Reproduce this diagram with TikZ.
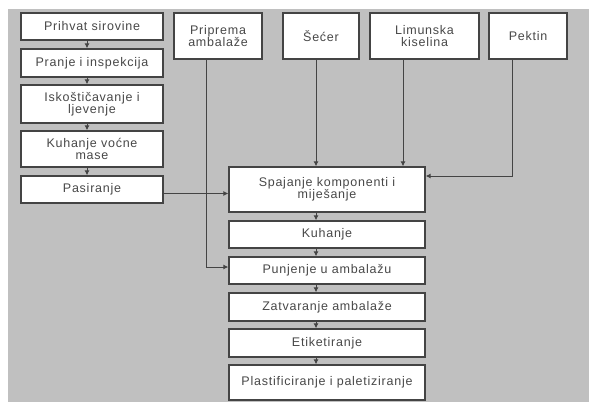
\documentclass[tikz,border=0pt]{standalone}
\usepackage{fontspec}
\setmainfont{Liberation Sans}[LetterSpace=6.0]
\usetikzlibrary{arrows.meta}

\definecolor{bgray}{HTML}{C0C0C0}
\definecolor{edge}{HTML}{444444}
\definecolor{txt}{HTML}{484848}

\tikzset{
  box/.style={draw=edge, fill=white, line width=1.3pt, text=txt, align=center,
    inner sep=0pt, font=\fontsize{12.5}{12.5}\selectfont},
  arr/.style={-{Latex[length=5pt,width=5pt]}, line width=0.9pt, draw=edge}
}

\begin{document}
\begin{tikzpicture}[x=1pt, y=-1pt]
% Background
\useasboundingbox (0,0) rectangle (589,402);
\fill[bgray] (8,9) rectangle (589,402);

% Left column
\node[box, minimum width=142, minimum height=27] (p1) at (92,26.5) {Prihvat sirovine};
\node[box, minimum width=142, minimum height=28] (p2) at (92,63) {Pranje i inspekcija};
\node[box, minimum width=142, minimum height=38] (p3) at (92,104) {Iskoštičavanje i\\ljevenje};
\node[box, minimum width=142, minimum height=36] (p4) at (92,149) {Kuhanje voćne\\mase};
\node[box, minimum width=142, minimum height=27] (p5) at (92,189.5) {Pasiranje};

% Top row
\node[box, minimum width=88, minimum height=46] (amb) at (218,36) {Priprema\\ambalaže};
\node[box, minimum width=76, minimum height=46] (secer) at (321,36) {Šećer};
\node[box, minimum width=109, minimum height=46] (limun) at (424.5,36) {Limunska\\kiselina};
\node[box, minimum width=78, minimum height=46] (pektin) at (528,36) {Pektin};

% Right column
\node[box, minimum width=196, minimum height=45] (s1) at (327,189.5) {Spajanje komponenti i\\miješanje};
\node[box, minimum width=196, minimum height=27] (s2) at (327,234.5) {Kuhanje};
\node[box, minimum width=196, minimum height=27] (s3) at (327,270.5) {Punjenje u ambalažu};
\node[box, minimum width=196, minimum height=28] (s4) at (327,307) {Zatvaranje ambalaže};
\node[box, minimum width=196, minimum height=28] (s5) at (327,343) {Etiketiranje};
\node[box, minimum width=196, minimum height=35] (s6) at (327,382.5) {Plastificiranje i paletiziranje};

% Arrows in the left column
\foreach \a/\b in {p1/p2, p2/p3, p3/p4, p4/p5}
  \draw[arr] ([xshift=-5pt]\a.south) -- ([xshift=-5pt]\b.north);

% Arrows in the right column
\foreach \a/\b in {s1/s2, s2/s3, s3/s4, s4/s5, s5/s6}
  \draw[arr] ([xshift=-11pt]\a.south) -- ([xshift=-11pt]\b.north);

% Inputs to mixing
\draw[arr] ([yshift=-4pt]p5.east) -- ([yshift=-4pt]p5.east -| s1.west);
\draw[arr] ([xshift=-5pt]secer.south) -- ([xshift=-5pt]secer.south |- s1.north);
\draw[arr] ([xshift=-21.5pt]limun.south) -- ([xshift=-21.5pt]limun.south |- s1.north);
\draw[arr] ([xshift=-16pt]pektin.south) |- ([yshift=13.5pt]s1.east);

% Packaging to filling
\draw[arr] ([xshift=-11.5pt]amb.south) |- ([yshift=3.5pt]s3.west);
\end{tikzpicture}
\end{document}
